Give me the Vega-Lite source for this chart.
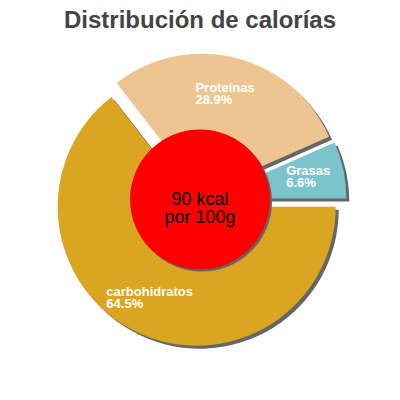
{
  "$schema": "https://vega.github.io/schema/vega-lite/v6.json",
  "width": 400,
  "height": 330,
  "autosize": {"type": "none"},
  "padding": {"top": 35, "bottom": 35, "left": 0, "right": 0},
  "background": "white",
  "title": {
    "text": "Distribución de calorías",
    "font": "Liberation Sans",
    "fontSize": 24,
    "fontWeight": "bold",
    "color": "#444444",
    "anchor": "middle",
    "offset": 2
  },
  "data": {
    "values": [
      {"cat": "carbohidratos", "share": 0.645},
      {"cat": "Proteínas", "share": 0.289},
      {"cat": "Grasas", "share": 0.066}
    ]
  },
  "layer": [
    {
      "mark": {
        "type": "arc",
        "outerRadius": 139,
        "fill": "#666666",
        "xOffset": {"expr": "3 + 7.5*sin(PI/2 + PI*(datum.share_start + datum.share_end))"},
        "yOffset": {"expr": "3 - 7.5*cos(PI/2 + PI*(datum.share_start + datum.share_end))"}
      },
      "encoding": {
        "theta": {"field": "share", "type": "quantitative", "stack": true,
                  "scale": {"domain": [0, 1], "range": [1.5707963, 7.8539816]}},
        "detail": {"field": "cat"},
        "order": {"field": "cat", "sort": "descending"}
      }
    },
    {
      "mark": {
        "type": "arc",
        "outerRadius": 139,
        "xOffset": {"expr": "7.5*sin(PI/2 + PI*(datum.share_start + datum.share_end))"},
        "yOffset": {"expr": "-7.5*cos(PI/2 + PI*(datum.share_start + datum.share_end))"}
      },
      "encoding": {
        "theta": {"field": "share", "type": "quantitative", "stack": true},
        "color": {
          "field": "cat",
          "type": "nominal",
          "legend": null,
          "scale": {
            "domain": ["carbohidratos", "Proteínas", "Grasas"],
            "range": ["#DAA520", "#EEC591", "#7AC5CD"]
          }
        },
        "order": {"field": "cat", "sort": "descending"}
      }
    },
    {
      "mark": {
        "type": "text",
        "radius": 109.5,
        "align": "left",
        "baseline": "middle",
        "dy": -6,
        "dx": {"expr": "-3.5*length(datum.cat)"},
        "font": "Liberation Sans",
        "fontSize": 13,
        "fontWeight": "bold",
        "fill": "white"
      },
      "encoding": {
        "theta": {"field": "share", "type": "quantitative", "stack": true},
        "detail": {"field": "cat"},
        "order": {"field": "cat", "sort": "descending"},
        "text": {"field": "cat"}
      }
    },
    {
      "mark": {
        "type": "text",
        "radius": 109.5,
        "align": "left",
        "baseline": "middle",
        "dy": 6,
        "dx": {"expr": "-3.5*length(datum.cat)"},
        "font": "Liberation Sans",
        "fontSize": 13,
        "fontWeight": "bold",
        "fill": "white"
      },
      "encoding": {
        "theta": {"field": "share", "type": "quantitative", "stack": true},
        "detail": {"field": "cat"},
        "order": {"field": "cat", "sort": "descending"},
        "text": {"field": "share", "format": ".1%"}
      }
    },
    {
      "data": {"values": [{"kcal": 90}]},
      "mark": {"type": "point", "shape": "circle", "filled": true, "opacity": 1,
               "size": 19600, "fill": "#666666", "strokeWidth": 0,
               "xOffset": 2, "yOffset": 1.5},
      "encoding": {}
    },
    {
      "data": {"values": [{"kcal": 90}]},
      "mark": {"type": "point", "shape": "circle", "filled": true, "opacity": 1,
               "size": 19600, "fill": "#FF0000", "strokeWidth": 0, "yOffset": -0.5},
      "encoding": {}
    },
    {
      "data": {"values": [{"kcal": 90}]},
      "mark": {"type": "text", "font": "Liberation Sans", "fontSize": 18,
               "fill": "black", "align": "center", "baseline": "middle",
               "lineHeight": 17.5},
      "encoding": {
        "text": {"value": ["90 kcal", "por 100g"]}
      }
    }
  ]
}
